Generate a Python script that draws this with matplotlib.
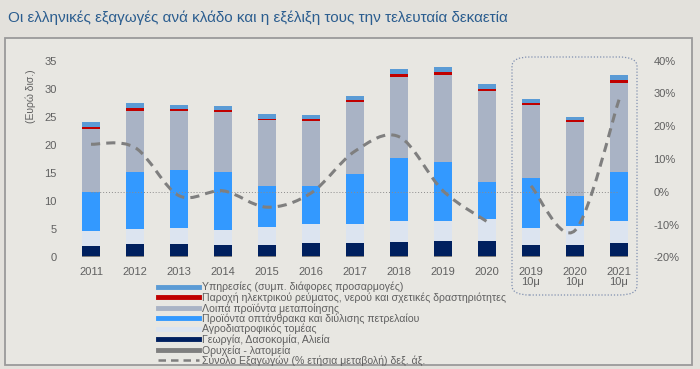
import matplotlib
matplotlib.use("Agg")
import matplotlib.pyplot as plt
import numpy as np
from matplotlib.path import Path
from matplotlib.patches import PathPatch, Rectangle, FancyBboxPatch
from matplotlib.lines import Line2D

# categories
years = ["2011", "2012", "2013", "2014", "2015", "2016", "2017", "2018", "2019", "2020",
         "2019\n10μ", "2020\n10μ", "2021\n10μ"]

# stacked series (billion euro), bottom to top
mining      = [0.3, 0.3, 0.3, 0.3, 0.3, 0.3, 0.3, 0.3, 0.3, 0.3, 0.3, 0.3, 0.3]
agriculture = [1.7, 2.0, 2.1, 1.9, 1.9, 2.2, 2.2, 2.35, 2.6, 2.6, 1.9, 1.9, 2.3]
agrofood    = [2.6, 2.7, 2.9, 2.7, 3.25, 3.4, 3.4, 3.8, 3.6, 4.0, 2.95, 3.4, 3.85]
oil         = [7.1, 10.2, 10.2, 10.2, 7.3, 6.8, 8.9, 11.25, 10.4, 6.55, 8.9, 5.3, 8.8]
other_manuf = [11.1, 10.85, 10.5, 10.7, 11.65, 11.5, 12.8, 14.45, 15.55, 16.15, 13.05, 13.2, 15.85]
electricity = [0.45, 0.55, 0.4, 0.35, 0.3, 0.35, 0.4, 0.45, 0.45, 0.4, 0.4, 0.35, 0.45]
services    = [0.85, 0.8, 0.8, 0.8, 0.9, 0.75, 0.8, 0.9, 0.9, 0.8, 0.7, 0.55, 0.9]

# total exports, % yearly change (two separate segments)
growth_annual = [14.5, 13.5, -1.2, 0.3, -4.7, -0.4, 12.4, 16.8, 0.3, -9.1]
growth_10m    = [1.8, -11.8, 28.1]

series = [
    ("Ορυχεία - λατομεία", mining, "#7f7f7f"),
    ("Γεωργία, Δασοκομία, Αλιεία", agriculture, "#00205f"),
    ("Αγροδιατροφικός τομέας", agrofood, "#dce4f0"),
    ("Προϊόντα οπτάνθρακα και διύλισης πετρελαίου", oil, "#3399ff"),
    ("Λοιπά προϊόντα μεταποίησης", other_manuf, "#a9b3c5"),
    ("Παροχή ηλεκτρικού ρεύματος, νερού και σχετικές δραστηριότητες", electricity, "#c00000"),
    ("Υπηρεσίες (συμπ. διάφορες προσαρμογές)", services, "#5b9bd5"),
]

TXT = "#606060"
plt.rcParams["font.family"] = ["Liberation Sans", "DejaVu Sans"]


def smooth_path(xs, ys):
    # bezier path through points (like a smoothed office line)
    pts = np.column_stack([xs, ys]).astype(float)
    verts = [pts[0]]
    codes = [Path.MOVETO]
    n = len(pts)
    for i in range(n - 1):
        p0 = pts[i - 1] if i > 0 else pts[i]
        p1 = pts[i]
        p2 = pts[i + 1]
        p3 = pts[i + 2] if i + 2 < n else pts[i + 1]
        c1 = p1 + (p2 - p0) / 6.0
        c2 = p2 - (p3 - p1) / 6.0
        verts += [c1, c2, p2]
        codes += [Path.CURVE4] * 3
    return Path(verts, codes)


fig = plt.figure(figsize=(7.0, 3.69), dpi=100)
fig.patch.set_facecolor("#e3e1dc")

# outer frame
fig.patches.append(Rectangle((5 / 700, 1 - 365 / 369), 687 / 700, 327 / 369,
                             transform=fig.transFigure, facecolor="#e8e7e2",
                             edgecolor="#9a9a9a", lw=1.3, zorder=-5))

fig.text(8 / 700, 1 - 18 / 369,
         "Οι ελληνικές εξαγωγές ανά κλάδο και η εξέλιξη τους την τελευταία δεκαετία",
         fontsize=11, color="#2b5d8f", ha="left", va="center")

ax = fig.add_axes([69 / 700, 1 - 257.3 / 369, 572 / 700, 196.6 / 369])
ax.set_facecolor("none")
x = np.arange(len(years))
bottom = np.zeros(len(years))
for name, vals, col in series:
    ax.bar(x, vals, 0.39, bottom=bottom, color=col, zorder=2)
    bottom += np.array(vals)

ax.set_xlim(-0.5, len(years) - 0.5)
ax.set_ylim(0, 35)
ax.set_yticks(np.arange(0, 36, 5))
ax.set_xticks(x)
ax.set_xticklabels(years, linespacing=0.95)
ax.tick_params(length=0, labelsize=8, colors=TXT)
ax.tick_params(axis="y", pad=9)
ax.tick_params(axis="x", pad=7)
for s in ax.spines.values():
    s.set_visible(False)

fig.text(31 / 700, 1 - 96 / 369, "(Ευρώ δισ.)", rotation=90, fontsize=7.5,
         color=TXT, ha="center", va="center")

ax2 = ax.twinx()
ax2.set_ylim(-20, 40)
ax2.set_yticks(np.arange(-20, 41, 10))
ax2.set_yticklabels([f"{v}%" for v in range(-20, 41, 10)])
ax2.tick_params(length=0, labelsize=8, colors=TXT, pad=9)
for s in ax2.spines.values():
    s.set_visible(False)

ax2.plot([0, len(years) - 1], [0, 0], ls=(0, (1, 2)), color="#8c8c8c", lw=0.7, zorder=3)

n1 = len(growth_annual)
for xs, ys in [(x[:n1], growth_annual), (x[n1:], growth_10m)]:
    ax2.add_patch(PathPatch(smooth_path(xs, ys), facecolor="none", edgecolor="#7f7f7f",
                            lw=2.2, ls=(0, (3, 2)), zorder=4))

# dotted rounded box around the 10-month bars
fig.patches.append(FancyBboxPatch((512 / 700, 1 - 295 / 369), 125 / 700, 238 / 369,
                                  boxstyle="round,pad=0,rounding_size=0.025",
                                  transform=fig.transFigure, facecolor="none",
                                  edgecolor="#8090b0", lw=0.9, ls=(0, (1, 1.5)),
                                  zorder=5))

handles = [Line2D([], [], color=c, lw=3.5) for _, _, c in reversed(series)]
labels = [n for n, _, _ in reversed(series)]
handles.append(Line2D([], [], color="#7f7f7f", lw=1.8, ls=(0, (3, 2))))
labels.append("Σύνολο Εξαγωγών (% ετήσια μεταβολή) δεξ. άξ.")
fig.legend(handles, labels, loc="upper left", bbox_to_anchor=(158 / 700, 1 - 282 / 369),
           frameon=False, fontsize=7.6, labelspacing=0.0, handlelength=3.9,
           handletextpad=0.3, borderpad=0, borderaxespad=0, labelcolor=TXT)

fig.savefig("out.png", dpi=100, facecolor=fig.get_facecolor())
